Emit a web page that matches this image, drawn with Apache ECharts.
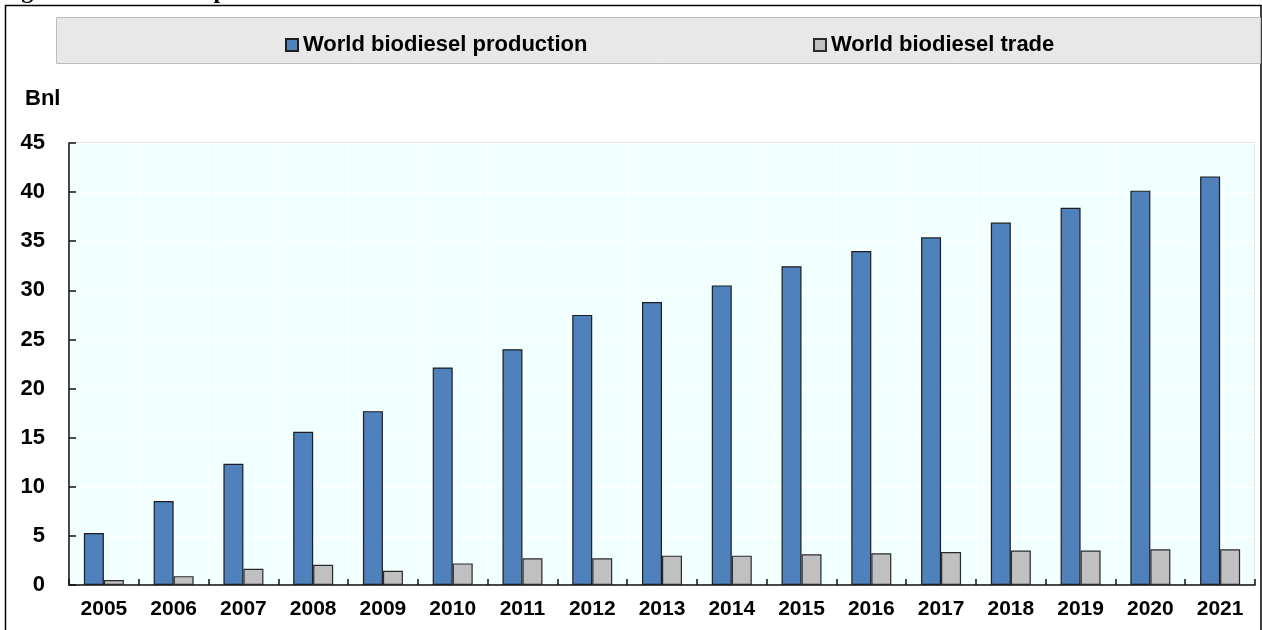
<!DOCTYPE html>
<html>
<head>
<meta charset="utf-8">
<title>World biodiesel production and trade</title>
<script src="https://cdn.jsdelivr.net/npm/echarts@6/dist/echarts.min.js"></script>
<style>
  html, body { margin: 0; padding: 0; background: #ffffff; }
  #chart { width: 1262px; height: 630px; }
</style>
</head>
<body>
<div id="chart"></div>
<script>
// Years on the category axis
const years = ['2005', '2006', '2007', '2008', '2009', '2010', '2011', '2012', '2013',
               '2014', '2015', '2016', '2017', '2018', '2019', '2020', '2021'];

// Billion litres
const production = [5.3, 8.55, 12.35, 15.6, 17.7, 22.15, 24.0, 27.5, 28.8,
                    30.5, 32.45, 34.0, 35.4, 36.9, 38.4, 40.15, 41.6];
const trade = [0.5, 0.9, 1.65, 2.05, 1.45, 2.2, 2.72, 2.72, 2.99,
               2.99, 3.12, 3.22, 3.36, 3.5, 3.5, 3.63, 3.63];

const yTicks = [0, 5, 10, 15, 20, 25, 30, 35, 40, 45];

const seriesNames = ['World biodiesel production', 'World biodiesel trade'];
const unitLabel = 'Bnl';

const FONT = "'Liberation Sans', Arial, sans-serif";

const chart = echarts.init(document.getElementById('chart'), null, { renderer: 'canvas' });

chart.setOption({
  animation: false,
  backgroundColor: '#ffffff',
  graphic: [
    // heading running off the top edge
    {
      type: 'text', left: 0, top: -20, z: 1,
      style: {
        text: 'Figure 9.4. Biodiesel production and trade',
        font: "bold 24px 'Liberation Serif', 'Times New Roman', serif",
        fill: '#000'
      }
    },
    // outer frame
    {
      type: 'rect', z: 0, silent: true,
      shape: { x: 5.5, y: 5.5, width: 1255.5, height: 640 },
      style: { fill: 'none', stroke: '#000', lineWidth: 1.5 }
    },
    // legend panel
    {
      type: 'rect', z: 1, silent: true,
      shape: { x: 56.5, y: 17.5, width: 1204, height: 46 },
      style: { fill: '#e8e8e8', stroke: '#bdbdbd', lineWidth: 1 }
    },
    // unit label above the value axis
    {
      type: 'text', left: 25, top: 88, z: 5,
      style: { text: unitLabel, font: 'bold 22px ' + FONT, fill: '#000' }
    }
  ],
  legend: [
    {
      data: [seriesNames[0]], left: 280, top: 29, z: 5,
      icon: 'rect', itemWidth: 12, itemHeight: 12, itemGap: 5,
      textStyle: { fontFamily: FONT, fontWeight: 'bold', fontSize: 22, color: '#000', padding: [0, 0, 0, 0] }
    },
    {
      data: [seriesNames[1]], left: 808, top: 29, z: 5,
      icon: 'rect', itemWidth: 12, itemHeight: 12, itemGap: 5,
      textStyle: { fontFamily: FONT, fontWeight: 'bold', fontSize: 22, color: '#000', padding: [0, 0, 0, 0] }
    }
  ],
  grid: {
    left: 69, right: 7, top: 143, bottom: 45,
    show: true, backgroundColor: '#f1ffff', borderColor: '#c8c8c8', borderWidth: 1
  },
  xAxis: {
    type: 'category',
    data: years,
    axisLine: { lineStyle: { color: '#111', width: 1.5 } },
    axisTick: { show: true, inside: true, length: 6, lineStyle: { color: '#111', width: 1.5 } },
    axisLabel: { interval: 0, fontFamily: FONT, fontWeight: 'bold', fontSize: 21, color: '#000', margin: 14 },
    splitLine: { show: true, lineStyle: { color: '#ffffff', width: 1 } }
  },
  yAxis: {
    type: 'value',
    min: yTicks[0], max: yTicks[yTicks.length - 1], interval: 5,
    axisLine: { show: true, lineStyle: { color: '#111', width: 1.5 } },
    axisTick: { show: true, inside: true, length: 7, lineStyle: { color: '#111', width: 1.5 } },
    axisLabel: { fontFamily: FONT, fontWeight: 'bold', fontSize: 22, color: '#000', margin: 24 },
    splitLine: { show: true, lineStyle: { color: '#ffffff', width: 1 } }
  },
  series: [
    {
      name: seriesNames[0], type: 'bar', data: production,
      barWidth: 20, barGap: '0%',
      itemStyle: { color: '#4f81bd', borderColor: '#1e1e1e', borderWidth: 1.2 }
    },
    {
      name: seriesNames[1], type: 'bar', data: trade,
      barWidth: 20, barGap: '0%',
      itemStyle: { color: '#c0c0c0', borderColor: '#2a2a2a', borderWidth: 1.2 }
    }
  ]
});
</script>
</body>
</html>
